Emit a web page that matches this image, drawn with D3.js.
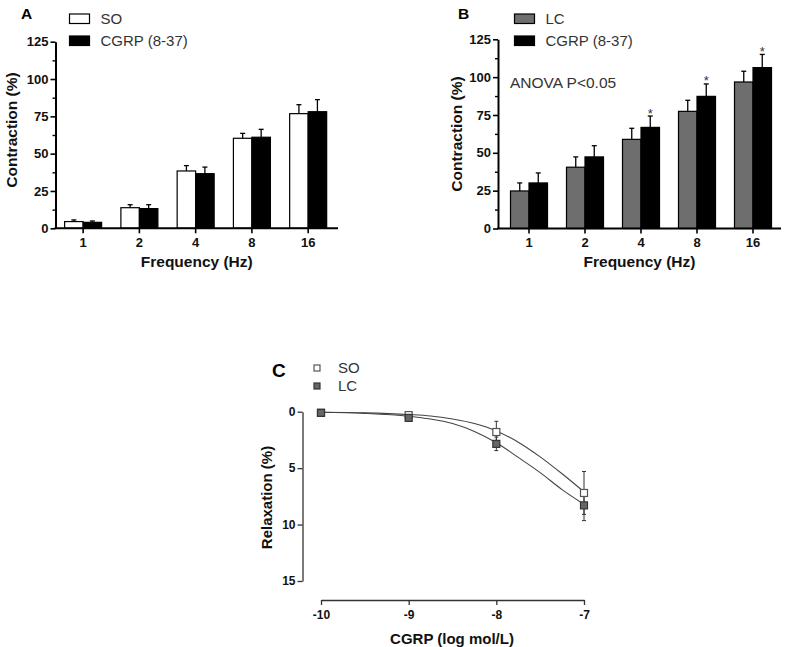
<!DOCTYPE html>
<html><head><meta charset="utf-8">
<script src="https://cdn.jsdelivr.net/npm/d3@7"></script>
<style>body{margin:0;background:#fff} svg{display:block} text{font-family:Arial,"Liberation Sans",sans-serif}</style>
</head><body>
<svg id="c" width="787" height="647"></svg>
<script>
// ---------- data ----------
const freqs = ["1","2","4","8","16"];
const aSO = [4.5, 13.8, 38.4, 60.3, 76.8];
const aSOerr = [1.1, 2.0, 3.6, 3.3, 6.0];
const aCG = [4.0, 13.2, 36.6, 61.0, 78.1];
const aCGerr = [0.9, 2.6, 4.4, 5.3, 8.1];
const bLC = [24.8, 40.5, 58.9, 77.4, 96.8];
const bLCerr = [5.3, 6.8, 7.3, 7.3, 7.1];
const bCG = [30.1, 47.3, 66.8, 87.3, 106.3];
const bCGerr = [6.6, 7.4, 7.5, 8.2, 8.7];
const bStars = [false, false, true, true, true];
const yTicksBar = [0, 25, 50, 75, 100, 125];
const yMinorBar = [12.5, 37.5, 62.5, 87.5, 112.5];

const logConc = [-10, -9, -8, -7];
const cSO = [0.1, 0.3, 1.8, 7.2];
const cSOerr = [0, 0, 0.95, 1.9];
const cLC = [0.1, 0.55, 2.85, 8.3];
const cLCerr = [0, 0, 0.6, 1.35];
const fitX = [-10, -9.5, -9, -8.75, -8.5, -8.25, -8, -7.75, -7.5, -7.25, -7];
const fitSO = [0.05, 0.1, 0.25, 0.38, 0.65, 1.05, 1.7, 2.7, 4.0, 5.5, 7.1];
const fitLC = [0.05, 0.15, 0.4, 0.65, 1.05, 1.75, 2.75, 4.05, 5.4, 6.9, 8.2];
const yTicksC = [0, 5, 10, 15];

const svg = d3.select("#c");
svg.append("rect").attr("width", 787).attr("height", 647).attr("fill", "#fff");
const FF = "Arial, 'Liberation Sans', sans-serif";

// ---------- bar panels ----------
function barPanel(o) {
  const g = svg.append("g");
  const x = d3.scaleBand().domain(freqs).range([o.bandL, o.bandR]).padding(0);
  const y = d3.scaleLinear().domain([0, 125]).range([o.y0, o.y125]);
  const bw = 18.5;
  const series = [
    {vals: o.s1, err: o.e1, fill: o.fill1, off: -bw},
    {vals: o.s2, err: o.e2, fill: "#000", off: 0}
  ];
  series.forEach(s => {
    const c = x.bandwidth() / 2;
    g.selectAll(null).data(freqs).enter().append("line")
      .attr("x1", d => x(d) + c + s.off + bw / 2).attr("x2", d => x(d) + c + s.off + bw / 2)
      .attr("y1", (d, i) => y(s.vals[i])).attr("y2", (d, i) => y(s.vals[i] + s.err[i]))
      .attr("stroke", "#000").attr("stroke-width", 1.3);
    g.selectAll(null).data(freqs).enter().append("line")
      .attr("x1", d => x(d) + c + s.off + bw / 2 - 2.5).attr("x2", d => x(d) + c + s.off + bw / 2 + 2.5)
      .attr("y1", (d, i) => y(s.vals[i] + s.err[i])).attr("y2", (d, i) => y(s.vals[i] + s.err[i]))
      .attr("stroke", "#000").attr("stroke-width", 1.3);
    g.selectAll(null).data(freqs).enter().append("rect")
      .attr("x", d => x(d) + c + s.off).attr("width", bw)
      .attr("y", (d, i) => y(s.vals[i])).attr("height", (d, i) => y(0) - y(s.vals[i]))
      .attr("fill", s.fill).attr("stroke", "#000").attr("stroke-width", 1.2);
  });
  if (o.stars) {
    const c = x.bandwidth() / 2;
    g.selectAll(null).data(freqs.filter((d, i) => o.stars[i])).enter().append("text")
      .attr("x", d => x(d) + c + bw / 2)
      .attr("y", d => { const i = freqs.indexOf(d); return y(o.s2[i] + o.e2[i]) + 1.5; })
      .attr("text-anchor", "middle").attr("font-size", 13).attr("fill", "#333").text("*");
  }
  // y axis
  const ya = g.append("g").attr("transform", `translate(${o.ax},0)`)
    .call(d3.axisLeft(y).tickValues(yTicksBar).tickSize(5).tickSizeOuter(0).tickPadding(2));
  ya.select(".domain").attr("stroke-width", 2);
  ya.selectAll(".tick line").attr("stroke-width", 1.6);
  ya.selectAll(".tick text").attr("font-size", 13).attr("font-weight", "bold").attr("fill", "#111")
    .attr("font-family", FF);
  const ym = g.append("g").attr("transform", `translate(${o.ax},0)`)
    .call(d3.axisLeft(y).tickValues(yMinorBar).tickSize(3).tickFormat(""));
  ym.select(".domain").remove();
  ym.selectAll(".tick line").attr("stroke-width", 1.4);
  // x axis
  const xa = g.append("g").attr("transform", `translate(0,${o.y0})`)
    .call(d3.axisBottom(x).tickSize(5).tickSizeOuter(0).tickPadding(4));
  xa.select(".domain").remove();
  xa.selectAll(".tick line").attr("stroke-width", 1.6);
  xa.selectAll(".tick text").attr("font-size", 13).attr("font-weight", "bold").attr("fill", "#111")
    .attr("font-family", FF);
  g.append("line").attr("x1", o.ax - 1).attr("x2", o.xEnd).attr("y1", o.y0).attr("y2", o.y0)
    .attr("stroke", "#000").attr("stroke-width", 2);
  // titles
  g.append("text").attr("x", (o.ax + o.xEnd) / 2).attr("y", 267).attr("text-anchor", "middle")
    .attr("font-size", 15.5).attr("font-weight", "bold").attr("fill", "#111").text("Frequency (Hz)");
  g.append("text").attr("transform", `translate(${o.ytX},${o.ytY}) rotate(-90)`).attr("text-anchor", "middle")
    .attr("font-size", 15.5).attr("font-weight", "bold").attr("fill", "#111").text("Contraction (%)");
  g.append("text").attr("x", o.letterX).attr("y", 19).attr("font-size", 15.5).attr("font-weight", "bold")
    .attr("fill", "#000").text(o.letter);
  // legend
  const leg = [{fill: o.fill1, label: o.name1, y: 14}, {fill: "#000", label: "CGRP (8-37)", y: 36}];
  leg.forEach(l => {
    g.append("rect").attr("x", o.legX).attr("y", l.y).attr("width", 20).attr("height", 9.5)
      .attr("fill", l.fill).attr("stroke", "#000").attr("stroke-width", 1.2);
    g.append("text").attr("x", o.legX + 31).attr("y", l.y + 10).attr("font-size", 15)
      .attr("fill", "#333").text(l.label);
  });
  return g;
}

barPanel({bandL: 55, bandR: 336.3, xEnd: 338, ax: 55.5, y0: 228.3, y125: 41.7,
  s1: aSO, e1: aSOerr, s2: aCG, e2: aCGerr, fill1: "#fff", name1: "SO",
  letter: "A", letterX: 21, legX: 69.5, ytX: 16.5, ytY: 130});
const gB = barPanel({bandL: 501, bandR: 781, xEnd: 781, ax: 498, y0: 228.5, y125: 39.3,
  s1: bLC, e1: bLCerr, s2: bCG, e2: bCGerr, fill1: "#6e6e6e", name1: "LC", stars: bStars,
  letter: "B", letterX: 458, legX: 514.5, ytX: 461.5, ytY: 134});
gB.append("text").attr("x", 510).attr("y", 87.5).attr("font-size", 15.5).attr("fill", "#333")
  .text("ANOVA P<0.05");

// ---------- panel C ----------
const gC = svg.append("g");
const xc = d3.scaleLinear().domain([-10, -7]).range([321, 584]);
const yc = d3.scaleLinear().domain([0, 15]).range([411.7, 581]);
const xca = gC.append("g").attr("transform", "translate(0,600)")
  .call(d3.axisBottom(xc).tickValues(logConc).tickSize(5).tickSizeOuter(0).tickPadding(5).tickFormat(d3.format("d")));
xca.select(".domain").attr("stroke", "#333").attr("stroke-width", 1.3);
xca.selectAll(".tick line").attr("stroke", "#333").attr("stroke-width", 1.3);
xca.selectAll(".tick text").attr("font-size", 12).attr("font-weight", "bold").attr("fill", "#111")
  .attr("font-family", FF).text(d => d < 0 ? "-" + Math.abs(d) : d);
const yca = gC.append("g").attr("transform", "translate(302.5,0)")
  .call(d3.axisLeft(yc).tickValues(yTicksC).tickSize(5).tickSizeOuter(0).tickPadding(2));
yca.select(".domain").attr("stroke", "#333").attr("stroke-width", 1.3);
yca.selectAll(".tick line").attr("stroke", "#333").attr("stroke-width", 1.3);
yca.selectAll(".tick text").attr("font-size", 12).attr("font-weight", "bold").attr("fill", "#111")
  .attr("font-family", FF);
gC.append("text").attr("x", 452).attr("y", 644).attr("text-anchor", "middle")
  .attr("font-size", 15).attr("font-weight", "bold").attr("fill", "#111").text("CGRP (log mol/L)");
gC.append("text").attr("transform", "translate(271.5,497.5) rotate(-90)").attr("text-anchor", "middle")
  .attr("font-size", 15).attr("font-weight", "bold").attr("fill", "#111").text("Relaxation (%)");
gC.append("text").attr("x", 272).attr("y", 377).attr("font-size", 19).attr("font-weight", "bold")
  .attr("font-family", "'Open Sans', sans-serif").attr("fill", "#000").text("C");

const line = d3.line().x(d => xc(d[0])).y(d => yc(d[1])).curve(d3.curveMonotoneX);
[fitSO, fitLC].forEach(f => {
  gC.append("path").attr("d", line(fitX.map((v, i) => [v, f[i]])))
    .attr("fill", "none").attr("stroke", "#444").attr("stroke-width", 1.1);
});
const cSeries = [
  {vals: cSO, err: cSOerr, fill: "#fff", stroke: "#555"},
  {vals: cLC, err: cLCerr, fill: "#666", stroke: "#333"}
];
cSeries.forEach(s => {
  const pts = logConc.map((v, i) => ({x: v, y: s.vals[i], e: s.err[i]})).filter(p => p.e > 0);
  gC.selectAll(null).data(pts).enter().append("line")
    .attr("x1", p => xc(p.x)).attr("x2", p => xc(p.x))
    .attr("y1", p => yc(p.y - p.e)).attr("y2", p => yc(p.y + p.e)).attr("stroke", "#333").attr("stroke-width", 1);
  [-1, 1].forEach(sg => {
    gC.selectAll(null).data(pts).enter().append("line")
      .attr("x1", p => xc(p.x) - 2).attr("x2", p => xc(p.x) + 2)
      .attr("y1", p => yc(p.y + sg * p.e)).attr("y2", p => yc(p.y + sg * p.e)).attr("stroke", "#333").attr("stroke-width", 1);
  });
});
cSeries.forEach(s => {
  gC.selectAll(null).data(logConc).enter().append("rect")
    .attr("x", (d) => xc(d) - 3.5).attr("y", (d, i) => yc(s.vals[i]) - 3.5)
    .attr("width", 7).attr("height", 7).attr("fill", s.fill).attr("stroke", s.stroke).attr("stroke-width", 1.2);
});
// legend C
[{s: cSeries[0], label: "SO", y: 368}, {s: cSeries[1], label: "LC", y: 386}].forEach(l => {
  gC.append("rect").attr("x", 314).attr("y", l.y - 3).attr("width", 6).attr("height", 6)
    .attr("fill", l.s.fill).attr("stroke", l.s.stroke).attr("stroke-width", 1.2);
  gC.append("text").attr("x", 338).attr("y", l.y + 5.3).attr("font-size", 15).attr("fill", "#333").text(l.label);
});
</script>
</body></html>
